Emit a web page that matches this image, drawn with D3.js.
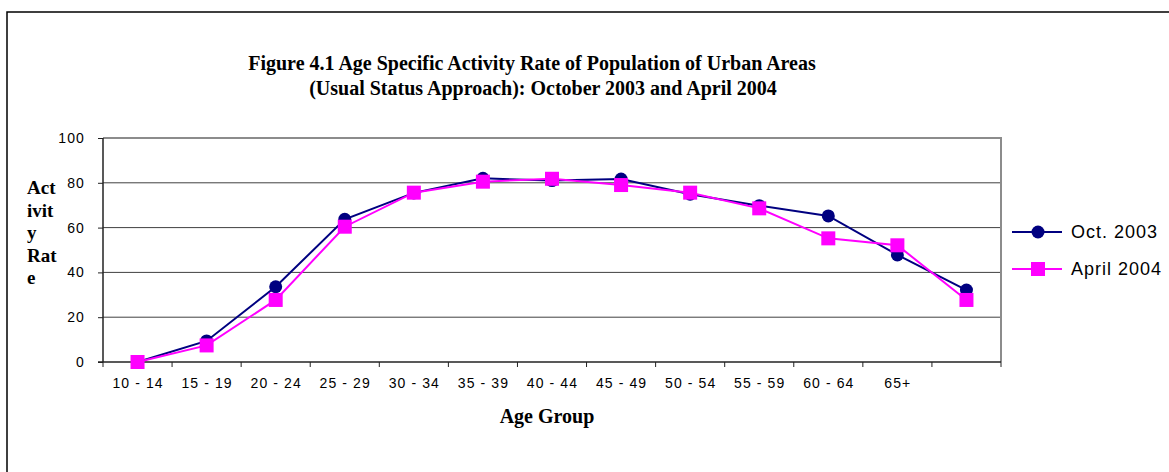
<!DOCTYPE html>
<html>
<head>
<meta charset="utf-8">
<script src="https://cdn.jsdelivr.net/npm/d3@7"></script>
<style>
  body { margin: 0; background: #fff; }
  svg { display: block; }
</style>
</head>
<body>
<div class="chart"></div>
<script>
// categories (last band has no label in the original)
const ageGroups = ["10 - 14", "15 - 19", "20 - 24", "25 - 29", "30 - 34", "35 - 39", "40 - 44",
                   "45 - 49", "50 - 54", "55 - 59", "60 - 64", "65+", ""];
const oct2003 = [0, 9.4, 33.6, 63.7, 75.5, 82.0, 81.0, 81.7, 74.9, 69.8, 65.2, 47.8, 32.1];
const april2004 = [0, 7.4, 27.7, 60.4, 75.6, 80.5, 81.8, 79.0, 75.6, 68.6, 55.2, 52.1, 27.7];
const yTicks = [0, 20, 40, 60, 80, 100];

const W = 1169, H = 472;
const plot = { left: 103, right: 1001, top: 138, bottom: 362 };
const sans = "Liberation Sans, Arial, sans-serif";
const serif = "Liberation Serif, Times New Roman, serif";

const svg = d3.select(".chart").append("svg")
  .attr("width", W)
  .attr("height", H);

// outer frame
svg.append("path")
  .attr("d", `M${W + 5},12 H7 V${H + 5}`)
  .attr("fill", "none")
  .attr("stroke", "#000")
  .attr("stroke-width", 1.5);

const x = d3.scaleBand()
  .domain(d3.range(ageGroups.length))
  .range([plot.left, plot.right]);

const y = d3.scaleLinear()
  .domain([0, 100])
  .range([plot.bottom, plot.top]);

// gridlines
svg.append("g")
  .selectAll("line")
  .data(yTicks.slice(1, -1))
  .join("line")
  .attr("x1", plot.left).attr("x2", plot.right)
  .attr("y1", d => y(d)).attr("y2", d => y(d))
  .attr("stroke", "#404040")
  .attr("stroke-width", 1);

// plot border top / right
svg.append("path")
  .attr("d", `M${plot.left},${plot.top} H${plot.right} V${plot.bottom}`)
  .attr("fill", "none")
  .attr("stroke", "#8c8c8c")
  .attr("stroke-width", 2);

// y axis
const yAxis = svg.append("g")
  .attr("transform", `translate(${plot.left},0)`)
  .call(d3.axisLeft(y).tickValues(yTicks).tickSize(5).tickPadding(13));
yAxis.select(".domain").attr("stroke", "#222").attr("stroke-width", 1.5)
  .attr("d", `M0,${plot.top}V${plot.bottom}`);
yAxis.selectAll(".tick line").attr("stroke", "#222");
yAxis.selectAll("text")
  .attr("font-family", sans)
  .attr("font-size", 14)
  .attr("letter-spacing", 1.1)
  .attr("fill", "#000");

// x axis: ticks on band boundaries, labels at band centres
const xAxisG = svg.append("g")
  .attr("transform", `translate(0,${plot.bottom})`);
xAxisG.append("line")
  .attr("x1", plot.left - 5).attr("x2", plot.right)
  .attr("stroke", "#222").attr("stroke-width", 1.5);
xAxisG.selectAll(".xt")
  .data(d3.range(ageGroups.length + 1))
  .join("line")
  .attr("class", "xt")
  .attr("x1", i => plot.left + i * x.bandwidth())
  .attr("x2", i => plot.left + i * x.bandwidth())
  .attr("y1", 0).attr("y2", 5)
  .attr("stroke", "#222");
xAxisG.selectAll("text")
  .data(ageGroups)
  .join("text")
  .attr("x", (d, i) => x(i) + x.bandwidth() / 2 + 0.5)
  .attr("y", 26)
  .attr("text-anchor", "middle")
  .attr("font-family", sans)
  .attr("font-size", 14)
  .attr("letter-spacing", 1.1)
  .text(d => d);

const cx = i => x(i) + x.bandwidth() / 2;

const line = d3.line()
  .x((d, i) => cx(i))
  .y(d => y(d));

// Oct 2003
svg.append("path")
  .datum(oct2003)
  .attr("d", line)
  .attr("fill", "none")
  .attr("stroke", "#000080")
  .attr("stroke-width", 2);
svg.append("g")
  .selectAll("circle")
  .data(oct2003)
  .join("circle")
  .attr("cx", (d, i) => cx(i))
  .attr("cy", d => y(d))
  .attr("r", 6.5)
  .attr("fill", "#000080");

// April 2004
svg.append("path")
  .datum(april2004)
  .attr("d", line)
  .attr("fill", "none")
  .attr("stroke", "#ff00ff")
  .attr("stroke-width", 2);
svg.append("g")
  .selectAll("rect")
  .data(april2004)
  .join("rect")
  .attr("x", (d, i) => cx(i) - 7)
  .attr("y", d => y(d) - 7)
  .attr("width", 14)
  .attr("height", 14)
  .attr("fill", "#ff00ff");

// titles
const title = svg.append("text")
  .attr("font-family", serif)
  .attr("font-weight", "bold")
  .attr("font-size", 20)
  .attr("text-anchor", "middle");
title.append("tspan").attr("x", 532).attr("y", 70)
  .text("Figure 4.1 Age Specific Activity Rate of Population of Urban Areas");
title.append("tspan").attr("x", 543).attr("y", 95)
  .text("(Usual Status Approach): October 2003 and April 2004");

svg.append("text")
  .attr("x", 547).attr("y", 423)
  .attr("text-anchor", "middle")
  .attr("font-family", serif)
  .attr("font-weight", "bold")
  .attr("font-size", 20)
  .text("Age Group");

const yTitle = svg.append("text")
  .attr("font-family", serif)
  .attr("font-weight", "bold")
  .attr("font-size", 19);
["Act", "ivit", "y", "Rat", "e"].forEach((s, i) => {
  yTitle.append("tspan").attr("x", 27).attr("y", 194 + i * 22.5).text(s);
});

// legend
const legend = svg.append("g").attr("transform", "translate(1012,232)");
const series = [
  { name: "Oct. 2003", color: "#000080", shape: "circle" },
  { name: "April 2004", color: "#ff00ff", shape: "square" }
];
series.forEach((s, i) => {
  const g = legend.append("g").attr("transform", `translate(0,${i * 37})`);
  g.append("line").attr("x1", 0).attr("x2", 50)
    .attr("stroke", s.color).attr("stroke-width", 2);
  if (s.shape === "circle") {
    g.append("circle").attr("cx", 26).attr("r", 6.5).attr("fill", s.color);
  } else {
    g.append("rect").attr("x", 19).attr("y", -7).attr("width", 14).attr("height", 14).attr("fill", s.color);
  }
  g.append("text").attr("x", 59).attr("y", 6)
    .attr("font-family", sans)
    .attr("font-size", 18)
    .attr("letter-spacing", 1)
    .text(s.name);
});
</script>
</body>
</html>
